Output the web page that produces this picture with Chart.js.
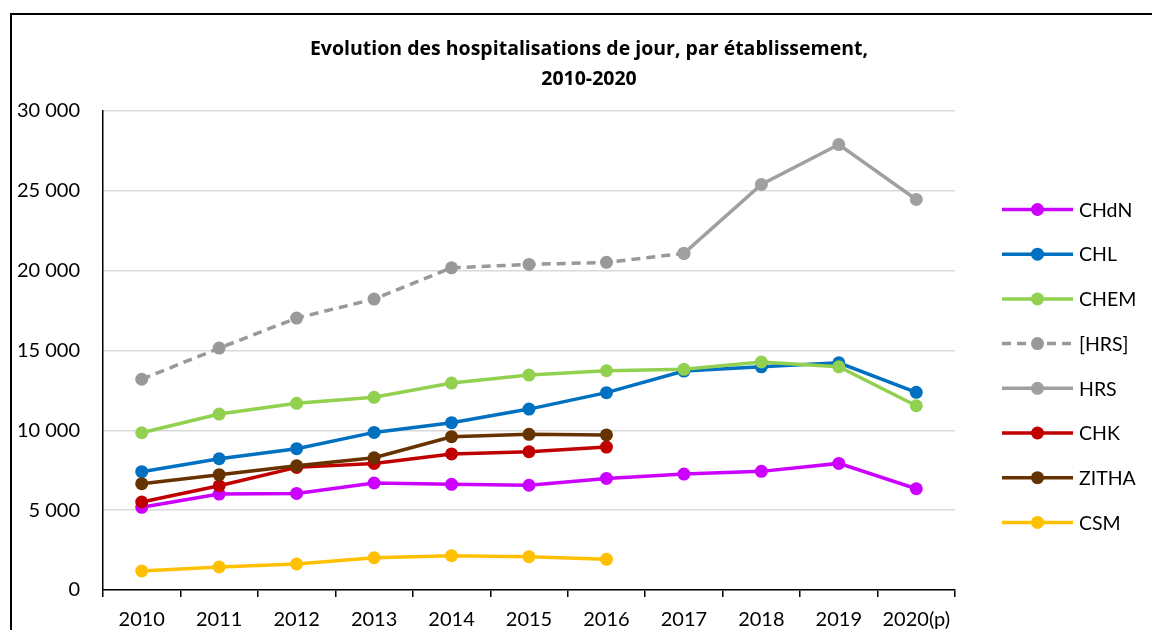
<!DOCTYPE html>
<html>
<head>
<meta charset="utf-8">
<script src="https://cdn.jsdelivr.net/npm/chart.js@4/dist/chart.umd.min.js"></script>
<style>
  html, body { margin: 0; padding: 0; background: #fff; }
  #wrap { position: relative; width: 1152px; height: 630px; overflow: hidden; }
  canvas { display: block; }
</style>
</head>
<body>
<div id="wrap"><canvas id="c" width="1152" height="630"></canvas></div>
<script>
const categories = ['2010','2011','2012','2013','2014','2015','2016','2017','2018','2019','2020(p)'];
const titleLines = ['Evolution des hospitalisations de jour, par établissement,', '2010-2020'];
const yTicks = [0, 5000, 10000, 15000, 20000, 25000, 30000];

const seriesNames = ['CHdN','CHL','CHEM','[HRS]','HRS','CHK','ZITHA','CSM'];
const chdn  = [5180, 6010, 6050, 6700, 6620, 6560, 6990, 7260, 7430, 7930, 6340];
const chl   = [7410, 8220, 8850, 9870, 10480, 11330, 12360, 13710, 13980, 14230, 12380];
const chem  = [9850, 11020, 11690, 12070, 12960, 13460, 13730, 13820, 14280, 13980, 11540];
const hrsEst = [13200, 15150, 17030, 18220, 20180, 20390, 20520, 21080, null, null, null];
const hrs   = [null, null, null, null, null, null, null, 21080, 25400, 27900, 24460];
const chk   = [5510, 6530, 7680, 7930, 8520, 8660, 8950, null, null, null, null];
const zitha = [6660, 7220, 7780, 8280, 9600, 9750, 9710, null, null, null, null];
const csm   = [1190, 1440, 1630, 2020, 2150, 2090, 1920, null, null, null, null];

const seriesData = [chdn, chl, chem, hrsEst, hrs, chk, zitha, csm];
const seriesColors = ['#CC00FF','#0070C0','#92D050','#999999','#A0A0A0','#C00000','#663300','#FFC000'];
const seriesDash = [[], [], [], [9,6], [], [], [], []];

const FONT = 'Lato, "Open Sans", sans-serif';
const TITLE_FONT = '"Open Sans", Lato, sans-serif';

const datasets = seriesNames.map((name, i) => ({
  label: name,
  data: seriesData[i],
  borderColor: seriesColors[i],
  backgroundColor: seriesColors[i],
  pointBackgroundColor: seriesColors[i],
  pointBorderColor: seriesColors[i],
  borderWidth: 3.5,
  borderDash: seriesDash[i],
  pointRadius: 6.5,
  pointHoverRadius: 6.5,
  pointBorderWidth: 0,
  tension: 0,
  spanGaps: false,
  order: seriesNames.length - i
}));

function fmt(v) {
  return String(v).replace(/\B(?=(\d{3})+(?!\d))/g, ' ');
}

const frameTitleLegend = {
  id: 'frameTitleLegend',
  afterDraw(chart, args, opts) {
    const ctx = chart.ctx;
    ctx.save();
    // outer frame
    ctx.strokeStyle = '#000';
    ctx.lineWidth = 2;
    ctx.beginPath();
    ctx.moveTo(11, 640);
    ctx.lineTo(11, 14);
    ctx.lineTo(1160, 14);
    ctx.stroke();
    // title
    ctx.fillStyle = '#000';
    ctx.font = 'bold 19.5px ' + TITLE_FONT;
    ctx.textAlign = 'center';
    ctx.textBaseline = 'middle';
    titleLines.forEach((t, i) => ctx.fillText(t, opts.titleX, opts.titleY + i * opts.titleStep));
    // legend
    const ds = chart.data.datasets;
    ctx.font = '19.5px ' + FONT;
    ctx.textBaseline = 'middle';
    ctx.textAlign = 'left';
    ds.forEach((d, i) => {
      const y = opts.top + i * opts.step;
      ctx.strokeStyle = d.borderColor;
      ctx.lineWidth = 3.5;
      ctx.setLineDash(d.borderDash || []);
      ctx.beginPath();
      ctx.moveTo(opts.x0, y);
      ctx.lineTo(opts.x1, y);
      ctx.stroke();
      ctx.setLineDash([]);
      ctx.fillStyle = d.borderColor;
      ctx.beginPath();
      ctx.arc((opts.x0 + opts.x1) / 2, y, 6.5, 0, Math.PI * 2);
      ctx.fill();
      ctx.fillStyle = '#000';
      ctx.fillText(d.label, opts.tx, y + 1);
    });
    ctx.restore();
  }
};

new Chart(document.getElementById('c'), {
  type: 'line',
  data: { labels: categories, datasets },
  plugins: [frameTitleLegend],
  options: {
    responsive: false,
    animation: false,
    devicePixelRatio: 1,
    layout: { padding: { left: 0, right: 197, top: 111, bottom: 0 } },
    plugins: {
      legend: { display: false },
      tooltip: { enabled: false },
      title: { display: false },
      frameTitleLegend: {
        titleX: 589, titleY: 49, titleStep: 30,
        x0: 1002, x1: 1073, tx: 1079, top: 209.5, step: 44.7
      }
    },
    scales: {
      x: {
        type: 'category',
        offset: true,
        afterFit(scale) { scale.height = 40; },
        grid: {
          offset: true,
          drawOnChartArea: false,
          drawTicks: true,
          tickLength: 7,
          color: '#000',
          lineWidth: 1.5
        },
        border: { display: true, color: '#000', width: 1.5 },
        ticks: {
          color: '#000',
          font: { family: FONT, size: 20 },
          padding: 11,
          maxRotation: 0,
          autoSkip: false
        }
      },
      y: {
        min: 0,
        max: 30000,
        afterBuildTicks(scale) { scale.ticks = yTicks.map(v => ({ value: v })); },
        afterFit(scale) { scale.width = 103; },
        grid: {
          color: '#D9D9D9',
          lineWidth: 1.5,
          drawTicks: false
        },
        border: { display: true, color: '#000', width: 1.5 },
        ticks: {
          color: '#000',
          font: { family: FONT, size: 20 },
          padding: 23,
          callback: (v) => fmt(v)
        }
      }
    }
  }
});
</script>
</body>
</html>
